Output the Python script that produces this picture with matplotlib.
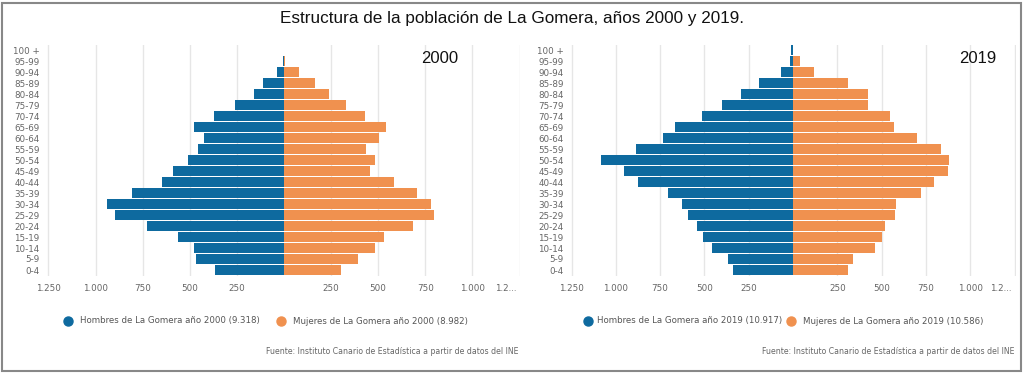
import numpy as np
import matplotlib.pyplot as plt
from matplotlib.patches import Rectangle
from matplotlib.lines import Line2D

# Data
age_groups = ["0-4", "5-9", "10-14", "15-19", "20-24", "25-29", "30-34",
              "35-39", "40-44", "45-49", "50-54", "55-59", "60-64", "65-69",
              "70-74", "75-79", "80-84", "85-89", "90-94", "95-99", "100 +"]

men_2000 = [365, 468, 476, 560, 726, 899, 941, 809, 645, 588, 508, 458,
            424, 476, 374, 260, 157, 109, 39, 6, 0]
women_2000 = [302, 395, 481, 532, 686, 798, 779, 704, 583, 457, 484, 437,
              504, 542, 428, 330, 237, 162, 82, 4, 0]
men_2019 = [338, 365, 459, 506, 543, 594, 628, 707, 874, 955, 1081, 884,
            735, 667, 511, 402, 291, 192, 66, 15, 9]
women_2019 = [309, 336, 463, 503, 521, 574, 581, 722, 797, 872, 879, 838,
              698, 568, 546, 424, 424, 313, 116, 37, 2]

legend_2000 = ["Hombres de La Gomera año 2000 (9.318)",
               "Mujeres de La Gomera año 2000 (8.982)"]
legend_2019 = ["Hombres de La Gomera año 2019 (10.917)",
               "Mujeres de La Gomera año 2019 (10.586)"]

tick_vals = [-1250, -1000, -750, -500, -250, 250, 500, 750, 1000]
tick_labels = ["1.250", "1.000", "750", "500", "250", "250", "500", "750", "1.000"]

BLUE = "#0e6a9f"
ORANGE = "#f0914f"
GRID = "#e6e6e6"
TXT = "#666666"

W, H = 1024, 373
fig = plt.figure(figsize=(W / 100, H / 100), dpi=100)
plt.rcParams['font.family'] = ['DejaVu Sans']

fig.text(0.5, 1 - 18 / H, "Estructura de la población de La Gomera, años 2000 y 2019.",
         ha="center", va="center", fontsize=12.3, family="Liberation Sans", color="#111111")

# outer border
fig.patches.append(Rectangle((2 / W, 2 / H), 1 - 5 / W, 1 - 5 / H, transform=fig.transFigure,
                             fill=False, edgecolor="#888888", linewidth=1.5))


def pyramid(x0, x1, center, year, year_px, men, women, labels, lx):
    # x0/x1: pixel positions of -1250 / +1250 gridlines
    ppu = (x1 - x0) / 2500.0
    left_px = x0 - 3
    right_px = x1 + 1
    xl = (left_px - center) / ppu
    xr = (right_px - center) / ppu
    top, bottom = 44.5, 275.5
    ax = fig.add_axes([left_px / W, 1 - bottom / H, (right_px - left_px) / W, (bottom - top) / H])
    y = np.arange(len(age_groups))
    ax.barh(y, [-v for v in men], height=0.86, color=BLUE, zorder=3)
    ax.barh(y, women, height=0.86, color=ORANGE, zorder=3)
    for t in tick_vals + [1250]:
        ax.axvline(t, color=GRID, linewidth=1, zorder=1)
    ax.set_xlim(xl, xr)
    ax.set_ylim(-0.5, len(age_groups) - 0.5)
    ax.set_yticks(y)
    ax.set_yticklabels(age_groups, fontsize=6.3, color=TXT)
    # truncated 1.250 label on the right side
    ax.set_xticks(tick_vals + [1175])
    ax.set_xticklabels(tick_labels + ["1.2..."], fontsize=6.3, color=TXT)
    ax.tick_params(length=0, pad=6)
    ax.tick_params(axis="y", pad=4)
    for s in ax.spines.values():
        s.set_visible(False)
    ax.text((year_px - center) / ppu, 19.2, year, ha="center", va="center",
            fontsize=12, family="Liberation Sans", color="#111111")

    # legend
    ly = 1 - 321 / H
    fig.add_artist(Line2D([lx[0] / W], [ly], marker="o", markersize=6.5, color=BLUE,
                          linestyle="none"))
    fig.text(lx[1] / W, ly, labels[0], ha="left", va="center", fontsize=6.2, color="#555555")
    fig.add_artist(Line2D([lx[2] / W], [ly], marker="o", markersize=6.5, color=ORANGE,
                          linestyle="none"))
    fig.text(lx[3] / W, ly, labels[1], ha="left", va="center", fontsize=6.2, color="#555555")
    fig.text((x1 - 1) / W, 1 - 352 / H, "Fuente: Instituto Canario de Estadística a partir de datos del INE",
             ha="right", va="center", fontsize=5.6, color="#666666")
    return ax


pyramid(48, 519, 284, "2000", 440, men_2000, women_2000, legend_2000, [68, 80, 281, 293])
pyramid(572, 1015, 793, "2019", 978, men_2019, women_2019, legend_2019, [588, 597, 791, 803])

fig.savefig("out.png", dpi=100)
